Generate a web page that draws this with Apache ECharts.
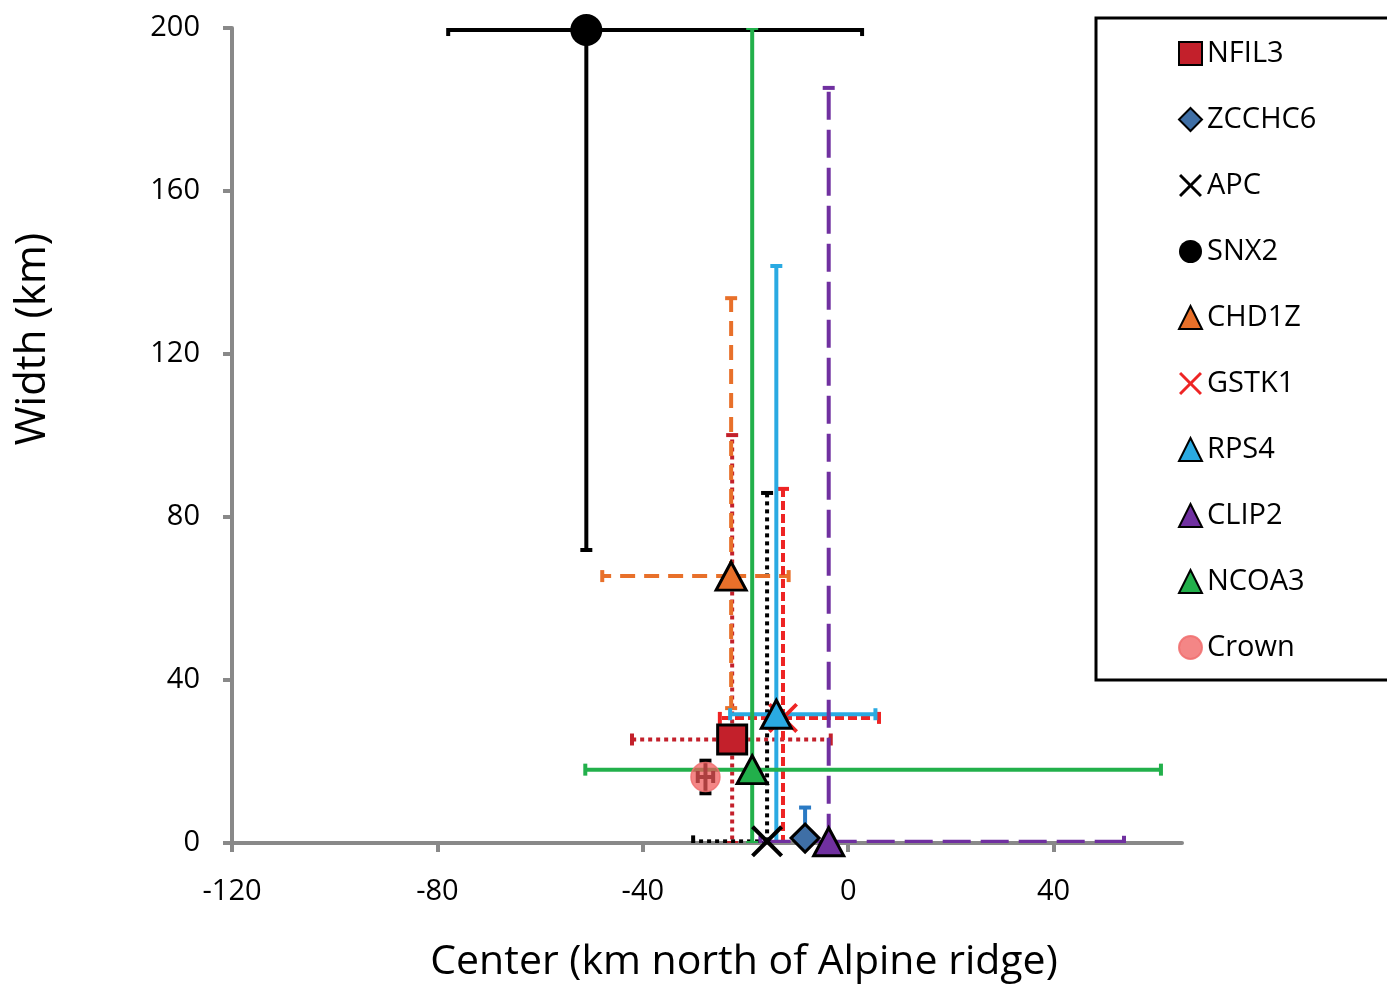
<!DOCTYPE html>
<html><head><meta charset="utf-8">
<script src="https://cdn.jsdelivr.net/npm/echarts@6/dist/echarts.min.js"></script>
<style>html,body{margin:0;padding:0;background:#fff}#c{width:1387px;height:986px}</style>
</head><body><div id="c"></div>
<script>
// ---- data ----
const seriesNames = ['NFIL3','ZCCHC6','APC','SNX2','CHD1Z','GSTK1','RPS4','CLIP2','NCOA3','Crown'];
const centerKm   = [-22.6, -8.4, -15.8, -51.0, -22.8, -12.7, -14.0, -3.8, -18.7, -27.8];
const widthKm    = [25.4, 1.2, 0.4, 199.5, 65.5, 30.7, 31.6, 0.3, 18.0, 16.2];
const centerLow  = [-42.1, null, -30.2, -77.9, -47.9, -25.0, -23.0, -17.1, -51.2, -29.3];
const centerHigh = [-3.4, null, null, 2.7, -11.6, 6.0, 5.3, 53.7, 60.9, -26.3];
const widthLow   = [0, 0, 0, 71.9, 33.1, 0, 0, 0, 0, 12.2];
const widthHigh  = [100.1, 8.7, 85.9, 200, 133.7, 86.9, 141.6, 185.3, 200, 20.2];
const xTicks = [-120, -80, -40, 0, 40];
const yTicks = [0, 40, 80, 120, 160, 200];

// ---- styles ----
const X_PATH = 'path://M0,1.8 L1.8,0 L10,8.2 L18.2,0 L20,1.8 L11.8,10 L20,18.2 L18.2,20 L10,11.8 L1.8,20 L0,18.2 L8.2,10 Z';
const styles = {
  NFIL3:  {symbol:'rect', size:29, color:'#c3202b', border:'#000', bw:3, bar:'#c3202b', dash:[4,4]},
  ZCCHC6: {symbol:'diamond', size:28, color:'#3f6fa6', border:'#000', bw:3, bar:'#2a7ac4', dash:null},
  APC:    {symbol:X_PATH, size:32, color:'#000', border:null, bw:0, bar:'#000', dash:[4,4]},
  SNX2:   {symbol:'circle', size:32, color:'#000', border:null, bw:0, bar:'#000', dash:null},
  CHD1Z:  {symbol:'triangle', size:[30,28], color:'#e8702a', border:'#000', bw:3, bar:'#e8702a', dash:[15,9]},
  GSTK1:  {symbol:X_PATH, size:30, color:'#ee2424', border:null, bw:0, bar:'#ee2424', dash:[9,4]},
  RPS4:   {symbol:'triangle', size:[30,28], color:'#2aaae2', border:'#000', bw:3, bar:'#2aaae2', dash:null},
  CLIP2:  {symbol:'triangle', size:[30,28], color:'#7030a0', border:'#000', bw:3, bar:'#7030a0', dash:[28,10]},
  NCOA3:  {symbol:'triangle', size:[30,28], color:'#22b04b', border:'#000', bw:3, bar:'#22b04b', dash:null},
  Crown:  {symbol:'circle', size:29, color:'rgba(240,88,88,0.72)', border:'rgba(240,110,110,0.85)', bw:1.5, bar:'#000', dash:null}
};
const FONT = '"Open Sans", "Noto Sans", sans-serif';
const BAR_W = 4;

function errorSeries(i) {
  const st = styles[seriesNames[i]];
  const cx = centerKm[i], cy = widthKm[i];
  return {
    type: 'custom', name: seriesNames[i] + ' error', z: 3, silent: true, clip: true,
    data: [[cx, cy,
      centerLow[i] == null ? cx : centerLow[i],
      centerHigh[i] == null ? cx : centerHigh[i],
      widthLow[i] == null ? cy : widthLow[i],
      widthHigh[i] == null ? cy : widthHigh[i]]],
    encode: {x: [0, 2, 3], y: [1, 4, 5]},
    renderItem: function (params, api) {
      const c = api.coord([api.value(0), api.value(1)]);
      const xl = api.coord([api.value(2), api.value(1)])[0];
      const xh = api.coord([api.value(3), api.value(1)])[0];
      const yl = api.coord([api.value(0), api.value(4)])[1];
      const yh = api.coord([api.value(0), api.value(5)])[1];
      const bar = {stroke: st.bar, lineWidth: BAR_W, lineDash: st.dash, lineCap: 'butt', fill: null};
      const cap = {stroke: st.bar, lineWidth: BAR_W, lineCap: 'butt', fill: null};
      const h = 6;
      const kids = [];
      const seg = (x1, y1, x2, y2, s) => kids.push({type: 'line', shape: {x1, y1, x2, y2}, style: s});
      if (Math.abs(xl - c[0]) > 0.5) { seg(c[0], c[1], xl, c[1], bar); seg(xl, c[1] - h, xl, c[1] + h, cap); }
      if (Math.abs(xh - c[0]) > 0.5) { seg(c[0], c[1], xh, c[1], bar); seg(xh, c[1] - h, xh, c[1] + h, cap); }
      if (Math.abs(yl - c[1]) > 0.5) { seg(c[0], c[1], c[0], yl, bar); seg(c[0] - h, yl, c[0] + h, yl, cap); }
      if (Math.abs(yh - c[1]) > 0.5) { seg(c[0], c[1], c[0], yh, bar); seg(c[0] - h, yh, c[0] + h, yh, cap); }
      return {type: 'group', children: kids};
    }
  };
}
function pointSeries(i) {
  const st = styles[seriesNames[i]];
  return {
    type: 'scatter', name: seriesNames[i], z: seriesNames[i] === 'Crown' ? 6 : 5,
    symbol: st.symbol, symbolSize: st.size, symbolKeepAspect: true,
    itemStyle: {color: st.color, borderColor: st.border || st.color, borderWidth: st.bw, opacity: 1},
    emphasis: {disabled: true},
    data: [[centerKm[i], widthKm[i]]]
  };
}

const series = [];
seriesNames.forEach((n, i) => series.push(errorSeries(i)));
seriesNames.forEach((n, i) => series.push(pointSeries(i)));

const axisGray = '#898989';
const chart = echarts.init(document.getElementById('c'), null, {renderer: 'canvas'});
chart.setOption({
  animation: false,
  backgroundColor: '#fff',
  grid: {left: 232, right: 205, top: 28, bottom: 143, containLabel: false, outerBoundsMode: 'none'},
  xAxis: {
    type: 'value', min: -120, max: 65, interval: 40,
    axisLine: {show: true, onZero: false, lineStyle: {color: axisGray, width: 4}},
    axisTick: {show: true, length: 9, customValues: xTicks, lineStyle: {color: axisGray, width: 4}},
    axisLabel: {customValues: xTicks, fontSize: 29, fontFamily: FONT, color: '#000', margin: 34},
    splitLine: {show: false}
  },
  yAxis: {
    type: 'value', min: 0, max: 200, interval: 40,
    axisLine: {show: true, onZero: false, lineStyle: {color: axisGray, width: 4}},
    axisTick: {show: true, length: 9, customValues: yTicks, lineStyle: {color: axisGray, width: 4}},
    axisLabel: {customValues: yTicks, fontSize: 29, fontFamily: FONT, color: '#000', margin: 32},
    splitLine: {show: false}
  },
  legend: {
    orient: 'vertical', left: 1096, top: 18,
    padding: [21, 200, 18, 82],
    itemWidth: 23, itemHeight: 23, itemGap: 37,
    borderColor: '#000', borderWidth: 3, backgroundColor: '#fff',
    selectedMode: false,
    textStyle: {fontSize: 29, lineHeight: 29, fontFamily: FONT, color: '#000'},
    data: seriesNames.map(n => ({name: n}))
  },
  graphic: [
    {type: 'text', x: 744, y: 962, style: {text: 'Center (km north of Alpine ridge)', font: '41px ' + FONT, fill: '#000', align: 'center', verticalAlign: 'middle'}},
    {type: 'text', x: 33, y: 339, rotation: Math.PI / 2, style: {text: 'Width (km)', font: '42px ' + FONT, fill: '#000', align: 'center', verticalAlign: 'middle'}}
  ],
  series: series
});
</script>
</body></html>
